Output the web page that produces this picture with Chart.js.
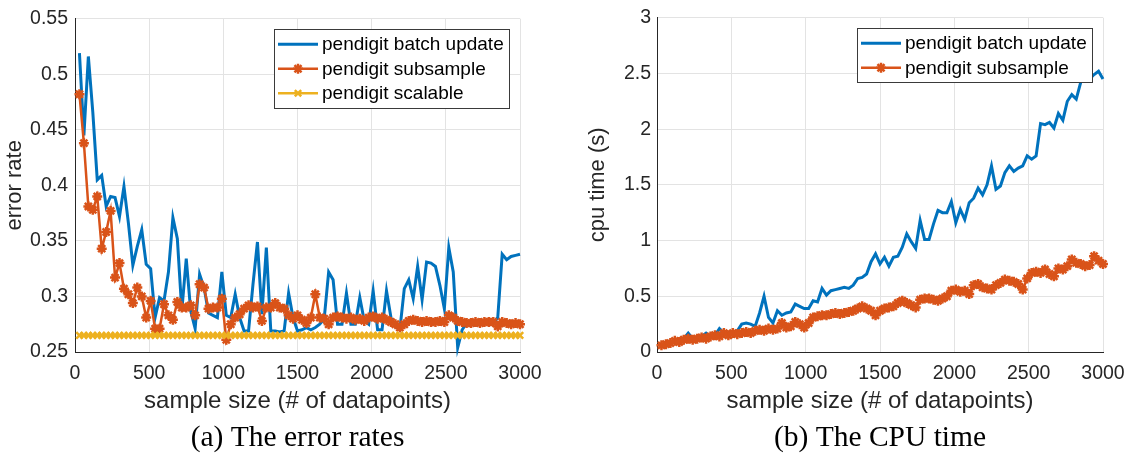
<!DOCTYPE html>
<html>
<head>
<meta charset="utf-8">
<script src="https://cdn.jsdelivr.net/npm/chart.js@4.4.1/dist/chart.umd.min.js"></script>
<style>
  html, body { margin: 0; padding: 0; background: #fff; }
  #wrap { position: relative; width: 1141px; height: 462px; }
  #errChart { position: absolute; left: 0; top: 0; }
  #cpuChart { position: absolute; left: 570px; top: 0; }
</style>
</head>
<body>
<div id="wrap">
  <canvas id="errChart" width="570" height="462"></canvas>
  <canvas id="cpuChart" width="571" height="462"></canvas>
</div>
<script>
// sample sizes (# of datapoints), shared by both panels
var sampleSizes = [
  30, 60, 90, 120, 150, 180, 210, 240, 270, 300,
  330, 360, 390, 420, 450, 480, 510, 540, 570, 600,
  630, 660, 690, 720, 750, 780, 810, 840, 870, 900,
  930, 960, 990, 1020, 1050, 1080, 1110, 1140, 1170, 1200,
  1230, 1260, 1290, 1320, 1350, 1380, 1410, 1440, 1470, 1500,
  1530, 1560, 1590, 1620, 1650, 1680, 1710, 1740, 1770, 1800,
  1830, 1860, 1890, 1920, 1950, 1980, 2010, 2040, 2070, 2100,
  2130, 2160, 2190, 2220, 2250, 2280, 2310, 2340, 2370, 2400,
  2430, 2460, 2490, 2520, 2550, 2580, 2610, 2640, 2670, 2700,
  2730, 2760, 2790, 2820, 2850, 2880, 2910, 2940, 2970, 3000
];

// (a) error rates
var errBatch = [
  0.519, 0.445, 0.516, 0.466, 0.405, 0.409, 0.381, 0.390, 0.389, 0.372,
  0.399, 0.366, 0.328, 0.345, 0.360, 0.329, 0.325, 0.281, 0.299, 0.296,
  0.322, 0.371, 0.352, 0.287, 0.334, 0.287, 0.271, 0.320, 0.308, 0.285,
  0.283, 0.281, 0.322, 0.283, 0.281, 0.302, 0.281, 0.269, 0.269, 0.311,
  0.349, 0.284, 0.344, 0.269, 0.269, 0.268, 0.269, 0.303, 0.281, 0.269,
  0.270, 0.272, 0.270, 0.272, 0.275, 0.280, 0.322, 0.315, 0.275, 0.275,
  0.303, 0.275, 0.275, 0.299, 0.278, 0.275, 0.305, 0.270, 0.270, 0.305,
  0.281, 0.273, 0.270, 0.307, 0.315, 0.298, 0.327, 0.297, 0.331, 0.330,
  0.327, 0.310, 0.289, 0.344, 0.322, 0.254, 0.270, 0.276, 0.275, 0.274,
  0.275, 0.276, 0.275, 0.276, 0.281, 0.338, 0.333, 0.336, 0.337, 0.338
];
var errSubsample = [
  0.482, 0.438, 0.381, 0.378, 0.390, 0.343, 0.358, 0.377, 0.317, 0.330,
  0.307, 0.302, 0.294, 0.308, 0.300, 0.281, 0.296, 0.271, 0.271, 0.293,
  0.283, 0.279, 0.295, 0.290, 0.290, 0.292, 0.283, 0.311, 0.308, 0.289,
  0.290, 0.290, 0.298, 0.261, 0.275, 0.281, 0.284, 0.289, 0.292, 0.290,
  0.291, 0.278, 0.290, 0.290, 0.294, 0.290, 0.289, 0.283, 0.280, 0.283,
  0.279, 0.276, 0.281, 0.302, 0.281, 0.280, 0.275, 0.281, 0.282, 0.281,
  0.280, 0.281, 0.279, 0.280, 0.278, 0.281, 0.282, 0.280, 0.281, 0.279,
  0.277, 0.275, 0.272, 0.275, 0.278, 0.279, 0.278, 0.277, 0.278, 0.277,
  0.277, 0.278, 0.277, 0.283, 0.281, 0.278, 0.277, 0.276, 0.276, 0.277,
  0.276, 0.277, 0.277, 0.277, 0.273, 0.277, 0.276, 0.275, 0.276, 0.275
];
var errScalable = [
  0.265, 0.265, 0.265, 0.265, 0.265, 0.265, 0.265, 0.265, 0.265, 0.265,
  0.265, 0.265, 0.265, 0.265, 0.265, 0.265, 0.265, 0.265, 0.265, 0.265,
  0.265, 0.265, 0.265, 0.265, 0.265, 0.265, 0.265, 0.265, 0.265, 0.265,
  0.265, 0.265, 0.265, 0.265, 0.265, 0.265, 0.265, 0.265, 0.265, 0.265,
  0.265, 0.265, 0.265, 0.265, 0.265, 0.265, 0.265, 0.265, 0.265, 0.265,
  0.265, 0.265, 0.265, 0.265, 0.265, 0.265, 0.265, 0.265, 0.265, 0.265,
  0.265, 0.265, 0.265, 0.265, 0.265, 0.265, 0.265, 0.265, 0.265, 0.265,
  0.265, 0.265, 0.265, 0.265, 0.265, 0.265, 0.265, 0.265, 0.265, 0.265,
  0.265, 0.265, 0.265, 0.265, 0.265, 0.265, 0.265, 0.265, 0.265, 0.265,
  0.265, 0.265, 0.265, 0.265, 0.265, 0.265, 0.265, 0.265, 0.265, 0.265
];

// (b) cpu time in seconds
var cpuBatch = [
  0.06, 0.08, 0.09, 0.10, 0.11, 0.12, 0.17, 0.12, 0.13, 0.14,
  0.17, 0.14, 0.15, 0.21, 0.17, 0.17, 0.18, 0.19, 0.25, 0.26,
  0.25, 0.23, 0.35, 0.50, 0.31, 0.26, 0.37, 0.33, 0.35, 0.36,
  0.43, 0.41, 0.39, 0.39, 0.46, 0.45, 0.57, 0.51, 0.55, 0.56,
  0.57, 0.58, 0.57, 0.60, 0.66, 0.67, 0.70, 0.81, 0.88, 0.79,
  0.85, 0.77, 0.85, 0.86, 0.94, 1.06, 0.99, 0.93, 1.18, 1.01,
  1.01, 1.15, 1.27, 1.25, 1.25, 1.35, 1.16, 1.28, 1.19, 1.34,
  1.38, 1.47, 1.41, 1.50, 1.67, 1.46, 1.49, 1.61, 1.67, 1.62,
  1.65, 1.67, 1.76, 1.73, 1.76, 2.05, 2.04, 2.06, 2.01, 2.14,
  2.08, 2.25, 2.31, 2.27, 2.42, 2.45, 2.45, 2.49, 2.52, 2.45
];
var cpuSubsample = [
  0.06, 0.07, 0.08, 0.10, 0.09, 0.11, 0.12, 0.11, 0.12, 0.13,
  0.12, 0.14, 0.15, 0.14, 0.17, 0.15, 0.17, 0.16, 0.17, 0.18,
  0.17, 0.19, 0.20, 0.19, 0.21, 0.20, 0.21, 0.26, 0.22, 0.23,
  0.27, 0.25, 0.22, 0.26, 0.31, 0.32, 0.33, 0.33, 0.34, 0.35,
  0.34, 0.35, 0.36, 0.37, 0.39, 0.41, 0.39, 0.37, 0.33, 0.37,
  0.39, 0.40, 0.41, 0.44, 0.46, 0.44, 0.42, 0.40, 0.47, 0.48,
  0.48, 0.47, 0.46, 0.48, 0.50, 0.55, 0.56, 0.54, 0.55, 0.52,
  0.60, 0.61, 0.58, 0.57, 0.56, 0.60, 0.62, 0.65, 0.64, 0.63,
  0.61, 0.56, 0.66, 0.71, 0.72, 0.71, 0.74, 0.70, 0.68, 0.75,
  0.74, 0.77, 0.83, 0.80, 0.79, 0.77, 0.78, 0.86, 0.82, 0.79
];

var errTicks = [0.25, 0.3, 0.35, 0.4, 0.45, 0.5, 0.55];
var cpuTicks = [0, 0.5, 1, 1.5, 2, 2.5, 3];
var xTicks = [0, 500, 1000, 1500, 2000, 2500, 3000];

// matlab-ish colours
var BLUE = '#0072BD', ORANGE = '#D95319', YELLOW = '#EDB120';
var AXIS = '#262626', GRID = '#e3e3e3';
var SANS = '"Liberation Sans", Arial, Helvetica, sans-serif';

Chart.defaults.font.family = SANS;
Chart.defaults.color = AXIS;

function pts(vals) {
    return sampleSizes.map(function(s, i) { return {x: s, y: vals[i]}; });
}

function fmt(v) {
    return String(Number(Number(v).toFixed(2)));
}

// legend drawn inside the plot with a box, line sample + marker like matlab
var boxLegend = {
    id: 'boxLegend',
    afterDraw: function(chart) {
        var ctx = chart.ctx, area = chart.chartArea;
        var sets = chart.data.datasets;
        ctx.save();
        ctx.font = '19px ' + SANS;
        var tw = 0;
        sets.forEach(function(d) { tw = Math.max(tw, ctx.measureText(d.label).width); });
        var rowH = 24.5;
        var w = Math.round(48 + tw + 5), h = Math.round(sets.length * rowH + 5);
        var x0 = Math.round(area.right - 11 - w), y0 = Math.round(area.top + 10);
        ctx.fillStyle = '#fff';
        ctx.fillRect(x0, y0, w, h);
        ctx.strokeStyle = '#3a3a3a';
        ctx.lineWidth = 1;
        ctx.strokeRect(x0 + 0.5, y0 + 0.5, w, h);
        sets.forEach(function(d, i) {
            var cy = y0 + 3 + rowH / 2 + i * rowH;
            ctx.strokeStyle = d.borderColor;
            ctx.lineWidth = d.borderWidth;
            ctx.beginPath();
            ctx.moveTo(x0 + 4, cy);
            ctx.lineTo(x0 + 44, cy);
            ctx.stroke();
            if (d.pointRadius > 0) {
                ctx.strokeStyle = d.pointBorderColor;
                ctx.fillStyle = d.pointBorderColor;
                ctx.lineWidth = d.pointBorderWidth;
                Chart.helpers.drawPoint(ctx, {
                    pointStyle: d.pointStyle, radius: d.pointRadius,
                    borderWidth: d.pointBorderWidth, rotation: 0
                }, x0 + 24, cy);
            }
            ctx.fillStyle = '#000';
            ctx.textBaseline = 'middle';
            ctx.textAlign = 'left';
            ctx.fillText(d.label, x0 + 48, cy + 1);
        });
        ctx.restore();
    }
};

// sub-figure caption, centred under the plot area
var caption = {
    id: 'caption',
    afterDraw: function(chart, args, opts) {
        var ctx = chart.ctx, area = chart.chartArea;
        ctx.save();
        ctx.font = '29.5px "Liberation Serif", "Times New Roman", serif';
        ctx.fillStyle = '#000';
        ctx.textAlign = 'center';
        ctx.textBaseline = 'middle';
        ctx.fillText(opts.text, (area.left + area.right) / 2, chart.height - 24);
        ctx.restore();
    }
};

function lineSet(label, vals, color, style, radius, width, order) {
    return {
        label: label,
        data: pts(vals),
        borderColor: color,
        backgroundColor: color,
        borderWidth: width,
        pointStyle: style || 'circle',
        pointRadius: radius || 0,
        pointBorderColor: color,
        pointBackgroundColor: color,
        pointBorderWidth: 2.5,
        pointHoverRadius: radius || 0,
        tension: 0,
        clip: false,
        order: order
    };
}

function buildOptions(o) {
    return {
        responsive: false,
        animation: false,
        events: [],
        layout: { padding: { top: 12, right: o.padRight, bottom: 46, left: 0 } },
        plugins: {
            legend: { display: false },
            tooltip: { enabled: false },
            caption: { text: o.caption }
        },
        scales: {
            x: {
                type: 'linear',
                min: 0, max: 3000,
                afterBuildTicks: function(s) { s.ticks = xTicks.map(function(v) { return {value: v}; }); },
                ticks: { padding: 10, font: { size: 19.5 }, maxRotation: 0, autoSkip: false,
                         callback: function(v) { return String(v); } },
                grid: { color: GRID, drawTicks: false },
                border: { color: AXIS, width: 1 },
                title: { display: true, text: 'sample size (# of datapoints)', color: AXIS,
                         font: { size: 24 }, padding: { top: 0, bottom: 0 } },
                afterFit: function(s) { s.height = 64; }
            },
            y: {
                min: o.yTicks[0], max: o.yTicks[o.yTicks.length - 1],
                afterBuildTicks: function(s) { s.ticks = o.yTicks.map(function(v) { return {value: v}; }); },
                ticks: { padding: o.tickPad, font: { size: 19.5 }, callback: fmt },
                grid: { color: GRID, drawTicks: false },
                border: { color: AXIS, width: 1 },
                title: { display: true, text: o.yTitle, color: AXIS,
                         font: { size: 22 }, padding: { top: o.titlePad, bottom: 0 } },
                afterFit: function(s) { s.width = o.yWidth; }
            }
        }
    };
}

new Chart(document.getElementById('errChart'), {
    type: 'line',
    data: {
        datasets: [
            lineSet('pendigit batch update', errBatch, BLUE, null, 0, 3, 2),
            lineSet('pendigit subsample', errSubsample, ORANGE, 'star', 5, 2.5, 1),
            lineSet('pendigit scalable', errScalable, YELLOW, 'crossRot', 4.5, 2.5, 0)
        ]
    },
    options: buildOptions({ yTicks: errTicks, yTitle: 'error rate', yWidth: 75, tickPad: 7,
                            titlePad: 2, padRight: 50, caption: '(a) The error rates' }),
    plugins: [boxLegend, caption]
});

new Chart(document.getElementById('cpuChart'), {
    type: 'line',
    data: {
        datasets: [
            lineSet('pendigit batch update', cpuBatch, BLUE, null, 0, 3, 1),
            lineSet('pendigit subsample', cpuSubsample, ORANGE, 'star', 5, 2.5, 0)
        ]
    },
    options: buildOptions({ yTicks: cpuTicks, yTitle: 'cpu time (s)', yWidth: 87, tickPad: 6,
                            titlePad: 15, padRight: 38, caption: '(b) The CPU time' }),
    plugins: [boxLegend, caption]
});
</script>
</body>
</html>
